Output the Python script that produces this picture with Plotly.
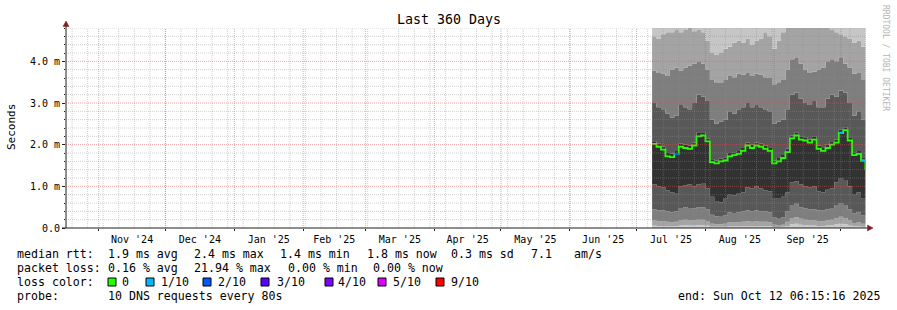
import pandas as pd
import plotly.graph_objects as go

# ---------------- data ----------------
RANGE_START = "2024-10-17 06:15:16"
RANGE_END = "2025-10-12 06:15:16"
FIRST_SAMPLE = "2025-07-08"
SAMPLE_EVERY = "2D"

# median rtt (ms), one value every 2 days
median_ms = [2.02, 1.95, 1.88, 1.72, 1.70, 1.78, 1.95, 1.92, 1.90, 1.98,
             2.20, 2.22, 2.08, 1.58, 1.55, 1.60, 1.62, 1.72, 1.75, 1.78,
             1.85, 1.98, 1.92, 1.98, 1.95, 1.90, 1.85, 1.55, 1.60, 1.68,
             1.82, 2.15, 2.22, 2.12, 2.10, 2.05, 2.12, 1.90, 1.85, 1.92,
             2.00, 2.05, 2.28, 2.35, 2.10, 1.75, 1.78, 1.62, 1.40]
# packet loss (tenths) for each sample
loss_tenths = [0, 0, 0, 0, 0, 2, 0, 0, 0, 0,
               0, 0, 0, 0, 0, 0, 0, 0, 0, 0,
               0, 0, 0, 0, 0, 0, 0, 0, 0, 0,
               0, 0, 0, 0, 0, 0, 0, 0, 0, 0,
               0, 0, 1, 0, 0, 0, 0, 1, 0]
# sorted ping boundaries (ms) for the smoke
ping2 = [0.06, 0.05, 0.05, 0.05, 0.04, 0.05, 0.06, 0.07, 0.06, 0.06,
         0.07, 0.07, 0.06, 0.03, 0.03, 0.03, 0.03, 0.05, 0.04, 0.05,
         0.05, 0.05, 0.05, 0.05, 0.05, 0.05, 0.05, 0.02, 0.02, 0.03,
         0.05, 0.09, 0.10, 0.08, 0.07, 0.06, 0.06, 0.05, 0.05, 0.06,
         0.07, 0.09, 0.10, 0.09, 0.06, 0.04, 0.04, 0.03, 0.03]
ping3 = [0.18, 0.16, 0.16, 0.15, 0.14, 0.15, 0.18, 0.20, 0.19, 0.18,
         0.20, 0.20, 0.17, 0.10, 0.09, 0.09, 0.10, 0.14, 0.13, 0.14,
         0.15, 0.16, 0.15, 0.16, 0.15, 0.15, 0.14, 0.08, 0.07, 0.08,
         0.15, 0.24, 0.26, 0.22, 0.20, 0.18, 0.18, 0.16, 0.16, 0.18,
         0.20, 0.24, 0.27, 0.24, 0.18, 0.12, 0.13, 0.10, 0.08]
ping4 = [0.45, 0.42, 0.42, 0.40, 0.38, 0.40, 0.48, 0.50, 0.48, 0.47,
         0.50, 0.50, 0.45, 0.32, 0.28, 0.27, 0.30, 0.38, 0.36, 0.38,
         0.40, 0.42, 0.40, 0.42, 0.40, 0.40, 0.38, 0.25, 0.22, 0.25,
         0.40, 0.55, 0.58, 0.50, 0.47, 0.45, 0.45, 0.42, 0.42, 0.45,
         0.48, 0.55, 0.60, 0.55, 0.45, 0.35, 0.38, 0.30, 0.25]
ping5 = [1.05, 1.00, 0.98, 0.90, 0.85, 0.82, 1.00, 1.02, 1.05, 1.00,
         1.05, 1.08, 0.95, 0.75, 0.65, 0.62, 0.70, 0.80, 0.78, 0.82,
         0.85, 0.98, 0.95, 1.00, 0.95, 0.90, 0.88, 0.72, 0.70, 0.75,
         0.85, 1.10, 1.12, 1.05, 1.00, 0.98, 1.00, 0.88, 0.85, 0.92,
         0.95, 1.10, 1.20, 1.15, 1.00, 0.80, 0.85, 0.70, 0.65]
ping6 = [2.08, 2.02, 1.95, 1.80, 1.78, 1.85, 2.02, 2.00, 1.98, 2.05,
         2.30, 2.30, 2.15, 1.65, 1.62, 1.66, 1.70, 1.80, 1.82, 1.85,
         1.92, 2.05, 2.00, 2.05, 2.02, 1.98, 1.92, 1.62, 1.68, 1.75,
         1.90, 2.22, 2.30, 2.20, 2.18, 2.12, 2.20, 1.98, 1.92, 2.00,
         2.08, 2.12, 2.36, 2.42, 2.18, 1.82, 1.85, 1.70, 1.48]
ping7 = [3.00, 2.90, 2.85, 2.75, 2.65, 2.70, 2.95, 2.90, 2.85, 3.00,
         3.20, 3.15, 3.05, 2.60, 2.50, 2.55, 2.60, 2.80, 2.75, 2.85,
         2.90, 3.00, 2.90, 2.95, 2.90, 2.85, 2.80, 2.50, 2.55, 2.60,
         2.85, 3.20, 3.25, 3.10, 3.00, 2.95, 3.05, 2.90, 2.90, 3.10,
         3.20, 3.15, 3.30, 3.25, 3.00, 2.70, 2.80, 2.60, 2.50]
ping8 = [3.78, 3.72, 3.70, 3.65, 3.80, 3.85, 3.78, 3.85, 3.90, 3.95,
         4.00, 3.95, 3.80, 3.55, 3.50, 3.48, 3.55, 3.65, 3.62, 3.70,
         3.68, 3.72, 3.65, 3.70, 3.68, 3.62, 3.60, 3.45, 3.50, 3.55,
         3.80, 4.05, 4.10, 3.95, 3.80, 3.72, 3.75, 3.80, 3.85, 4.00,
         4.05, 4.00, 4.10, 3.95, 3.85, 3.70, 3.72, 3.55, 3.45]
ping9 = [4.60, 4.55, 4.65, 4.70, 4.70, 4.75, 4.70, 4.75, 4.80, 4.72,
         4.75, 4.70, 4.50, 4.20, 4.15, 4.20, 4.30, 4.35, 4.45, 4.50,
         4.45, 4.55, 4.40, 4.50, 4.55, 4.70, 4.60, 4.30, 4.50, 4.70,
         4.85, 4.90, 4.90, 4.85, 4.85, 4.80, 4.85, 4.85, 4.80, 4.90,
         4.75, 4.70, 4.65, 4.60, 4.55, 4.45, 4.50, 4.35, 4.20]

y_tick_vals = [0, 1, 2, 3, 4]
y_tick_text = ["0.0", "1.0 m", "2.0 m", "3.0 m", "4.0 m"]
Y_MAX = 4.8

loss_colors = {0: "#26ff00", 1: "#00b8ff", 2: "#0059ff", 3: "#5e00ff",
               4: "#7e00ff", 5: "#dd00ff", 9: "#ff0000"}
loss_labels = ["0", "1/10", "2/10", "3/10", "4/10", "5/10", "9/10"]
loss_keys = [0, 1, 2, 3, 4, 5, 9]

# ---------------- figure ----------------
W, H = 897, 310
L, R, T, B = 66, 866, 28, 228
MONO = "DejaVu Sans Mono"


def fx(px):
    return (px - L) / (R - L)


def fy(py):
    return (B - py) / (B - T)


dates = pd.date_range(FIRST_SAMPLE, periods=len(median_ms), freq=SAMPLE_EVERY)
fig = go.Figure()

layers = [(ping2, "#cacaca"), (ping3, "#a4a4a4"), (ping4, "#7e7e7e"),
          (ping5, "#585858"), (ping6, "#323232"), (ping7, "#585858"),
          (ping8, "#7e7e7e"), (ping9, "#a4a4a4"),
          ([Y_MAX] * len(dates), "#c6c6c6")]
for i, (vals, col) in enumerate(layers):
    fig.add_trace(go.Scatter(
        x=dates, y=vals, mode="lines", line=dict(width=0, shape="hv"),
        fill="tozeroy" if i == 0 else "tonexty", fillcolor=col,
        hoverinfo="skip", showlegend=False))

fig.add_trace(go.Scatter(x=dates, y=median_ms, mode="lines",
                         line=dict(color=loss_colors[0], width=1.8, shape="hv"),
                         hoverinfo="skip", showlegend=False))
for i, lv in enumerate(loss_tenths):
    if lv and i + 1 < len(dates):
        fig.add_trace(go.Scatter(x=[dates[i], dates[i + 1]], y=[median_ms[i], median_ms[i]],
                                 mode="lines", line=dict(color=loss_colors[lv], width=2),
                                 hoverinfo="skip", showlegend=False))

shapes = []
GRID = "rgba(143,143,143,0.42)"
MGRID = "rgba(222,79,79,0.5)"
DASH = "1px,1px"
for d in pd.date_range("2024-10-20", RANGE_END, freq="7D"):
    shapes.append(dict(type="line", xref="x", yref="paper", x0=d, x1=d, y0=0, y1=1,
                       line=dict(color=GRID, width=1, dash=DASH), layer="above"))
for k in range(1, int(round(Y_MAX / 0.2)) + 1):
    v = k * 0.2
    if abs(v - round(v)) < 1e-6:
        continue
    shapes.append(dict(type="line", xref="paper", yref="y", x0=0, x1=1, y0=v, y1=v,
                       line=dict(color=GRID, width=1, dash=DASH), layer="above"))
for d in pd.date_range("2024-11-01", RANGE_END, freq="MS"):
    shapes.append(dict(type="line", xref="x", yref="paper", x0=d, x1=d, y0=0, y1=1,
                       line=dict(color=MGRID, width=1, dash=DASH), layer="above"))
for v in y_tick_vals[1:]:
    shapes.append(dict(type="line", xref="paper", yref="y", x0=0, x1=1, y0=v, y1=v,
                       line=dict(color=MGRID, width=1, dash=DASH), layer="above"))

AXIS = "#1f1f1f"
ARROW = "#801f1f"
shapes.append(dict(type="line", xref="paper", yref="paper", x0=fx(66), x1=fx(66),
                   y0=fy(228), y1=fy(25), line=dict(color=AXIS, width=1), layer="above"))
shapes.append(dict(type="line", xref="paper", yref="paper", x0=fx(62), x1=fx(869),
                   y0=fy(228), y1=fy(228), line=dict(color=AXIS, width=1), layer="above"))
shapes.append(dict(type="path", xref="paper", yref="paper",
                   path=f"M {fx(63)} {fy(26.5)} L {fx(69)} {fy(26.5)} L {fx(66)} {fy(21)} Z",
                   fillcolor=ARROW, line=dict(color=ARROW, width=0.5), layer="above"))
shapes.append(dict(type="path", xref="paper", yref="paper",
                   path=f"M {fx(867.5)} {fy(225)} L {fx(867.5)} {fy(231)} L {fx(873)} {fy(228)} Z",
                   fillcolor=ARROW, line=dict(color=ARROW, width=0.5), layer="above"))

# legend color boxes
box_x = [108, 146, 203, 261, 325, 378, 436]
lab_x = [121, 160, 217, 276, 337, 392, 450]
for bx, k in zip(box_x, loss_keys):
    shapes.append(dict(type="rect", xref="paper", yref="paper", x0=fx(bx), x1=fx(bx + 8),
                       y0=fy(286), y1=fy(278), fillcolor=loss_colors[k],
                       line=dict(color="#000000", width=1)))

ann = []


def text(s, x, y, size=11.6, anchor="left", color="#000000", angle=0, family=MONO):
    ann.append(dict(text=s, xref="paper", yref="paper", x=fx(x), y=fy(y), showarrow=False,
                    xanchor=anchor, yanchor="middle", textangle=angle,
                    font=dict(family=family, size=size, color=color), borderpad=0))


text("Last 360 Days", 448.5, 19, size=13.3, anchor="center")
text("Seconds", 11, 127, size=11, anchor="center", angle=-90)
text("RRDTOOL / TOBI OETIKER", 886, 58, size=8, anchor="center", angle=90, color="#b4b4b4")

row1 = [("median rtt:", 16), ("1.9 ms avg", 107), ("2.4 ms max", 193), ("1.4 ms min", 279),
        ("1.8 ms now", 366), ("0.3 ms sd", 450), ("7.1", 530), ("am/s", 573)]
row2 = [("packet loss:", 16), ("0.16 % avg", 107), ("21.94 % max", 193),
        ("0.00 % min", 287), ("0.00 % now", 372)]
for s, x in row1:
    text(s, x, 254)
for s, x in row2:
    text(s, x, 268)
text("loss color:", 16, 282)
for s, x in zip(loss_labels, lab_x):
    text(s, x, 282)
text("probe:", 16, 296)
text("10 DNS requests every 80s", 107, 296)
text("end: Sun Oct 12 06:15:16 2025", 881, 296, anchor="right")

fig.update_layout(
    width=W, height=H, autosize=False,
    margin=dict(l=L, r=W - R, t=T, b=H - B, pad=0),
    paper_bgcolor="#ffffff", plot_bgcolor="#ffffff",
    shapes=shapes, annotations=ann, showlegend=False,
    font=dict(family=MONO, color="#000000"),
    xaxis=dict(range=[RANGE_START, RANGE_END], showgrid=False, zeroline=False, showline=False,
               tick0="2024-11-01", dtick="M1", tickformat="%b '%y", ticklabelmode="period",
               ticks="outside", ticklen=2, tickcolor=AXIS,
               tickfont=dict(family=MONO, size=10, color="#000000")),
    yaxis=dict(range=[0, Y_MAX], showgrid=False, zeroline=False, showline=False,
               tickvals=y_tick_vals, ticktext=y_tick_text, ticks="outside", ticklen=3,
               tickcolor=AXIS, tickfont=dict(family=MONO, size=10, color="#000000"),
               minor=dict(ticks="outside", ticklen=1, dtick=0.2, tickcolor=AXIS, showgrid=False)),
)

fig.write_html("out.html")
